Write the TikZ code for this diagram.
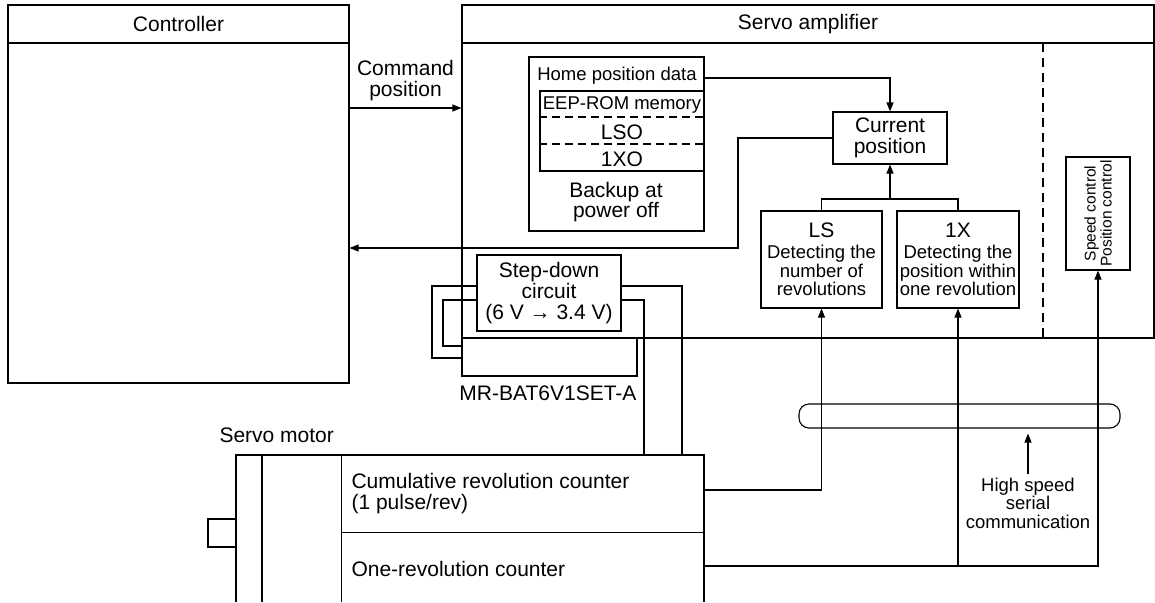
\documentclass[tikz,border=0pt]{standalone}
\usepackage{fontspec}
\setmainfont{Liberation Sans}
\usetikzlibrary{arrows.meta,calc}
\newcommand\fszA{\fontsize{21}{21}\selectfont}
\newcommand\fszB{\fontsize{18.5}{18.5}\selectfont}
\newcommand\fszC{\fontsize{15.5}{16}\selectfont}
\begin{document}
\begin{tikzpicture}[x=1pt,y=-1pt,line width=1.1pt,
  box/.style={draw,inner sep=0pt,align=center,font=\fszA},
  arr/.style={-{Triangle[length=9pt,width=7pt]}},
  lbl/.style={inner sep=0pt,align=center,font=\fszA},
  sml/.style={inner sep=0pt,align=center,font=\fszB},
  dsh/.style={dash pattern=on 8pt off 5pt}]
\useasboundingbox (0,0) rectangle (1155,602);
% level coordinates
\coordinate (y43) at (0,43);
\coordinate (yCmd) at (0,108);
\coordinate (yHome) at (0,78);
\coordinate (xCurL) at (738,0);
\coordinate (yBack) at (0,248);
\coordinate (yTree) at (0,199);
\coordinate (y117) at (0,117);
\coordinate (y144) at (0,144);
\coordinate (y286) at (0,286);
\coordinate (y300) at (0,300);
\coordinate (y346) at (0,346);
\coordinate (y358) at (0,358);
\coordinate (wA) at (432,0);
\coordinate (wB) at (443,0);
\coordinate (wC) at (682,0);
\coordinate (wD) at (644,0);
\coordinate (motTop) at (0,455);
\coordinate (mCum) at (704,490);
\coordinate (mOne) at (704,566);

% controller
\node[box,minimum width=341pt,minimum height=378pt] (ctrl) at (178.5,194) {};
\draw (ctrl.west |- y43) -- (ctrl.east |- y43);
\node[lbl] (ctrlT) at (178.5,24) {Controller};

% servo amplifier
\node[box,minimum width=692pt,minimum height=333pt] (amp) at (808,171.5) {};
\draw (amp.west |- y43) -- (amp.east |- y43);
\node[lbl] (ampT) at (808,24) {Servo amplifier};
\draw[dash pattern=on 9pt off 6pt] (1043,43) -- (1043,338);

% command position
\draw[arr] (ctrl.east |- yCmd) -- (amp.west |- yCmd);
\node[lbl] (cmdT) at (405.5,81) {Command\\position};

% home position data
\node[box,minimum width=175pt,minimum height=174pt] (home) at (616.5,144) {};
\node[sml] (homeT) at (617,76) {Home position data};
\node[box,minimum width=164pt,minimum height=80pt] (eep) at (622,131) {};
\draw[dsh] (eep.west |- y117) -- (eep.east |- y117);
\draw[dsh] (eep.west |- y144) -- (eep.east |- y144);
\node[sml] (eepT) at (622,105) {EEP-ROM memory};
\node[lbl] (lsoT) at (622,132) {LSO};
\node[lbl] (xoT) at (622,159) {1XO};
\node[lbl] (bkT) at (616,202) {Backup at\\[-1.5pt]power off};

% current position
\node[box,minimum width=114pt,minimum height=52pt] (cur) at (890,138) {Current\\position};
\draw[arr] (home.east |- yHome) -| (cur.north);
\draw[arr] (cur.west) -| (xCurL |- yBack) -- (ctrl.east |- yBack);

% LS and 1X
\node[box,font=\fszB,minimum width=121pt,minimum height=97pt] (ls) at (821.5,259.5)
  {{\fszA LS}\\[2.5pt]Detecting the\\number of\\revolutions};
\node[box,font=\fszB,minimum width=122pt,minimum height=97pt] (onex) at (958,259.5)
  {{\fszA 1X}\\[2.5pt]Detecting the\\position within\\one revolution};
\draw (ls.north) |- (onex.north |- yTree) -- (onex.north);
\draw[arr] (cur.south |- yTree) -- (cur.south);

% speed control
\node[box,minimum width=64pt,minimum height=113pt] (spd) at (1098,213.5) {};
\node[inner sep=0pt,align=center,font=\fszC,rotate=90] (spdT) at (spd.center) {Speed control\\Position control};

% step-down and battery
\node[box,minimum width=144pt,minimum height=76pt] (step) at (549,293) {Step-down\\circuit\\(6 V → 3.4 V)};
\node[box,minimum width=175pt,minimum height=38pt] (bat) at (549.5,357) {};
\node[lbl,anchor=east] (batT) at (637,393) {MR-BAT6V1SET-A};
\draw (step.west |- y286) -| (wA |- y358) -- (bat.west |- y358);
\draw (step.west |- y300) -| (wB |- y346) -- (bat.west |- y346);
\draw (step.east |- y286) -| (wC |- motTop);
\draw (step.east |- y300) -| (wD |- motTop);

% servo motor
\draw (236,602) |- (704,455) -- (704,602);
\draw (262,455) -- (262,602);
\draw (341.5,455) -- (341.5,602);
\draw (341.5,532.5) -- (704,532.5);
\node[box,minimum width=28pt,minimum height=28pt] (shaft) at (222,533) {};
\node[lbl,anchor=west] (motT) at (219,435) {Servo motor};
\node[lbl,anchor=west,align=left] (cumT) at (351,494) {Cumulative revolution counter\\(1 pulse/rev)};
\node[lbl,anchor=west] (oneT) at (351,569) {One-revolution counter};

% encoder signals
\draw[arr] (mCum) -| (ls.south);
\draw[arr] (mOne) -| (spd.south);
\draw[arr] (onex.south |- mOne) -- (onex.south);

% serial bus
\node[draw,rounded corners=10pt,minimum width=321pt,minimum height=24pt,inner sep=0pt] (bus) at (959.5,416) {};
\node[sml] (hsT) at (1028,503) {High speed\\serial\\communication};
\draw[arr,shorten >=5pt] ($(hsT.north)+(0,-3)$) -- (hsT.north |- bus.south);
\end{tikzpicture}
\end{document}
